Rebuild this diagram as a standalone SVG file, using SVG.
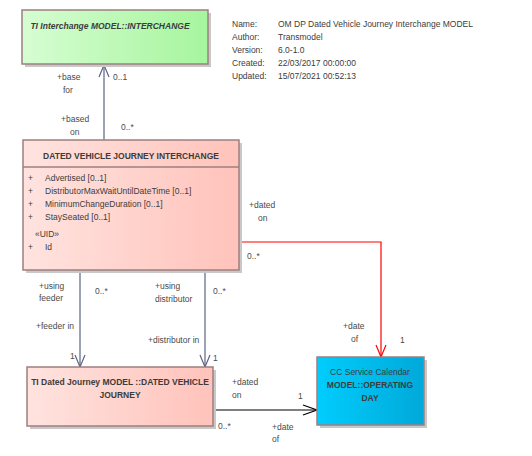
<svg xmlns="http://www.w3.org/2000/svg" width="532" height="456" viewBox="0 0 532 456">
<defs>
<linearGradient id="gGreen" x1="0" y1="0" x2="1" y2="0"><stop offset="0" stop-color="#d6fdd2"/><stop offset="1" stop-color="#a6f59e"/></linearGradient>
<linearGradient id="gPink" x1="0" y1="0" x2="1" y2="0"><stop offset="0" stop-color="#ffe3df"/><stop offset="1" stop-color="#ffc3bb"/></linearGradient>
<linearGradient id="gBlue" x1="0" y1="0" x2="1" y2="0"><stop offset="0" stop-color="#00cdfd"/><stop offset="1" stop-color="#00a9d9"/></linearGradient>
</defs>
<style>
text{font-family:"Liberation Sans",Arial,sans-serif;font-size:8.5px;fill:#3c3c3c}
.shadow{fill:#c8c8c8}
.box{stroke:#9c7f7f;stroke-width:1.5}
.title{font-weight:bold;text-anchor:middle}
.lbl{fill:#4a4a4a}
.conn{fill:none;stroke:#5a6482;stroke-width:1.2}
.red{fill:none;stroke:#ff0000;stroke-width:1.2}
.blk{fill:none;stroke:#000;stroke-width:1.2}
</style>
<rect width="532" height="456" fill="#fff"/>
<g id="meta">
<text x="232" y="27">Name:</text><text x="278" y="27">OM DP Dated Vehicle Journey Interchange MODEL</text>
<text x="232" y="40">Author:</text><text x="278" y="40">Transmodel</text>
<text x="232" y="53">Version:</text><text x="278" y="53">6.0-1.0</text>
<text x="232" y="66">Created:</text><text x="278" y="66">22/03/2017 00:00:00</text>
<text x="232" y="79">Updated:</text><text x="278" y="79">15/07/2021 00:52:13</text>
</g>
<g id="connectors">
<path class="conn" d="M104 140V65"/><path class="conn" d="M99 77L104 65L109 77"/>
<path class="conn" d="M80 270V367"/><path class="conn" d="M75 355L80 367L85 355"/>
<path class="conn" d="M205 270V367"/><path class="conn" d="M200 355L205 367L210 355"/>
<path class="red" d="M239 242H381V357"/><path class="red" d="M376 345L381 357L386 345"/>
<path class="blk" d="M213 410H317"/><path class="blk" d="M303 405L317 410L303 415"/>
<text class="lbl" x="57" y="80">+base</text><text class="lbl" x="63" y="93">for</text>
<text class="lbl" x="113" y="80">0..1</text>
<text class="lbl" x="61" y="122">+based</text><text class="lbl" x="70" y="135">on</text>
<text class="lbl" x="121" y="130">0..*</text>
<text class="lbl" x="249" y="208">+dated</text><text class="lbl" x="258" y="221">on</text>
<text class="lbl" x="247" y="259">0..*</text>
<text class="lbl" x="39" y="289">+using</text><text class="lbl" x="39" y="301">feeder</text>
<text class="lbl" x="95" y="294">0..*</text>
<text class="lbl" x="155" y="289">+using</text><text class="lbl" x="155" y="302">distributor</text>
<text class="lbl" x="213" y="294">0..*</text>
<text class="lbl" x="36" y="329">+feeder in</text>
<text class="lbl" x="148" y="343">+distributor in</text>
<text class="lbl" x="70" y="359">1</text>
<text class="lbl" x="213" y="361">1</text>
<text class="lbl" x="343" y="329">+date</text><text class="lbl" x="351" y="342">of</text>
<text class="lbl" x="400" y="343">1</text>
<text class="lbl" x="232" y="385">+dated</text><text class="lbl" x="232" y="398">on</text>
<text class="lbl" x="298" y="399">1</text>
<text class="lbl" x="218" y="429">0..*</text>
<text class="lbl" x="272" y="430">+date</text><text class="lbl" x="272" y="442">of</text>
</g>
<g id="ti-interchange">
<rect class="shadow" x="25" y="13" width="186" height="54"/>
<rect class="box" x="22" y="10" width="186" height="54" fill="url(#gGreen)"/>
<text class="title" x="110" y="29" font-style="italic">TI Interchange MODEL::INTERCHANGE</text>
</g>
<g id="dvj-interchange">
<rect class="shadow" x="26" y="143" width="216" height="130"/>
<rect class="box" x="23" y="140" width="216" height="130" fill="url(#gPink)"/>
<line class="box" x1="23" y1="167" x2="239" y2="167"/>
<text class="title" x="131" y="159">DATED VEHICLE JOURNEY INTERCHANGE</text>
<text x="28" y="181">+</text><text x="45" y="181">Advertised [0..1]</text>
<text x="28" y="194">+</text><text x="45" y="194">DistributorMaxWaitUntilDateTime [0..1]</text>
<text x="28" y="207">+</text><text x="45" y="207">MinimumChangeDuration [0..1]</text>
<text x="28" y="220">+</text><text x="45" y="220">StaySeated [0..1]</text>
<text x="35" y="237">«UID»</text>
<text x="28" y="250">+</text><text x="45" y="250">Id</text>
</g>
<g id="dated-vehicle-journey">
<rect class="shadow" x="30" y="370" width="186" height="59"/>
<rect class="box" x="27" y="367" width="186" height="59" fill="url(#gPink)"/>
<text class="title" x="120" y="385">TI Dated Journey MODEL ::DATED VEHICLE</text>
<text class="title" x="120" y="398">JOURNEY</text>
</g>
<g id="operating-day">
<rect class="shadow" x="320" y="360" width="107" height="68"/>
<rect class="box" x="317" y="357" width="107" height="68" fill="url(#gBlue)" stroke="#7f8f9c"/>
<text class="title" x="370" y="375" style="font-weight:normal">CC Service Calendar</text>
<text class="title" x="370" y="388">MODEL::OPERATING</text>
<text class="title" x="370" y="401">DAY</text>
</g>
</svg>
